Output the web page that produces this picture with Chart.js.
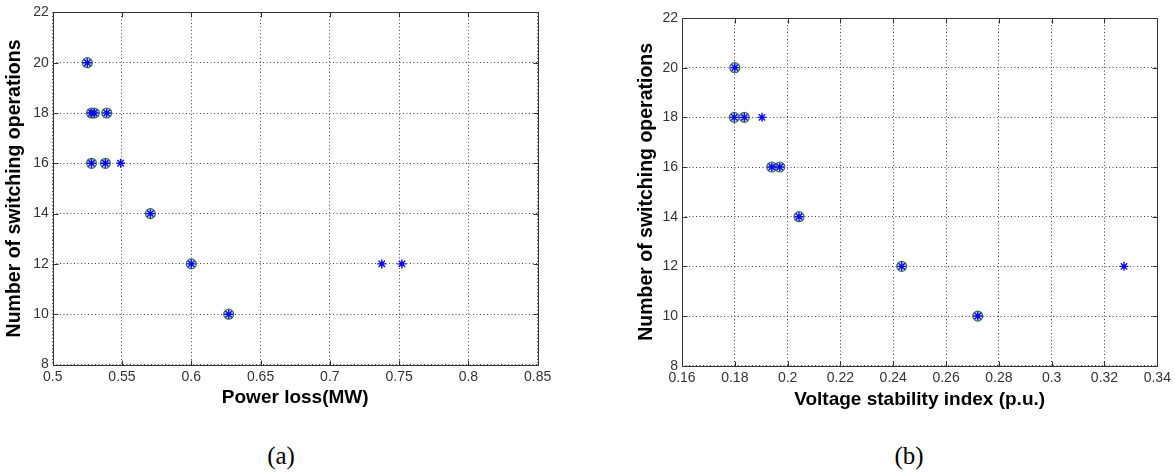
<!DOCTYPE html>
<html>
<head>
<meta charset="utf-8">
<script src="https://cdn.jsdelivr.net/npm/chart.js@4.4.1/dist/chart.umd.min.js"></script>
<style>
  html, body { margin: 0; padding: 0; background: #fff; }
  body { width: 1175px; height: 476px; position: relative; overflow: hidden; }
  .plot { position: absolute; top: 0; height: 430px; }
  #wrapA { left: 0; width: 600px; }
  #wrapB { left: 632px; width: 543px; }
  .caption {
    position: absolute; top: 443px; line-height: 1;
    font-family: "Liberation Serif", "Times New Roman", serif; font-size: 25px; color: #000;
    transform: translateX(-50%);
  }
</style>
</head>
<body>
<div class="plot" id="wrapA"><canvas id="chartA"></canvas></div>
<div class="plot" id="wrapB"><canvas id="chartB"></canvas></div>
<div class="caption" style="left:281px">(a)</div>
<div class="caption" style="left:909px">(b)</div>

<script>
// (a) power loss vs number of switching operations
const lossAll = [0.525, 0.528, 0.530, 0.539, 0.528, 0.538, 0.549, 0.5705, 0.600, 0.627, 0.7375, 0.752]
const lossAllSw = [20, 18, 18, 18, 16, 16, 16, 14, 12, 10, 12, 12]
// circled solutions
const lossSel = [0.525, 0.528, 0.530, 0.539, 0.528, 0.538, 0.5705, 0.600, 0.627]
const lossSelSw = [20, 18, 18, 18, 16, 16, 14, 12, 10]

// (b) voltage stability index vs number of switching operations
const vsiAll = [0.180, 0.1798, 0.1836, 0.1903, 0.194, 0.197, 0.2043, 0.2432, 0.272, 0.3274]
const vsiAllSw = [20, 18, 18, 18, 16, 16, 14, 12, 10, 12]
const vsiSel = [0.180, 0.1798, 0.1836, 0.194, 0.197, 0.2043, 0.2432, 0.272]
const vsiSelSw = [20, 18, 18, 16, 16, 14, 12, 10]

// ticks
const xTicksA = [0.5, 0.55, 0.6, 0.65, 0.7, 0.75, 0.8, 0.85]
const xTickLabelsA = ['0.5', '0.55', '0.6', '0.65', '0.7', '0.75', '0.8', '0.85']
const xTicksB = [0.16, 0.18, 0.2, 0.22, 0.24, 0.26, 0.28, 0.3, 0.32, 0.34]
const xTickLabelsB = ['0.16', '0.18', '0.2', '0.22', '0.24', '0.26', '0.28', '0.3', '0.32', '0.34']
const yTicks = [8, 10, 12, 14, 16, 18, 20, 22]
const yTickLabels = ['8', '10', '12', '14', '16', '18', '20', '22']

Chart.defaults.font.family = '"Liberation Sans", Arial, sans-serif'
Chart.defaults.color = '#333'

// matlab style box with inward ticks
const boxPlugin = {
  id: 'matlabBox',
  beforeDatasetsDraw(chart) {
    const { ctx, chartArea: a, scales } = chart
    const l = Math.round(a.left) + 0.5
    const r = Math.round(a.right) + 0.5
    const t = Math.round(a.top) + 0.5
    const b = Math.round(a.bottom) + 0.5
    ctx.save()
    ctx.strokeStyle = '#333'
    ctx.lineWidth = 1
    ctx.beginPath()
    ctx.rect(l, t, r - l, b - t)
    scales.x.ticks.forEach((tk) => {
      const px = Math.round(scales.x.getPixelForValue(tk.value)) + 0.5
      ctx.moveTo(px, b); ctx.lineTo(px, b - 5)
      ctx.moveTo(px, t); ctx.lineTo(px, t + 5)
    })
    scales.y.ticks.forEach((tk) => {
      const py = Math.round(scales.y.getPixelForValue(tk.value)) + 0.5
      ctx.moveTo(l, py); ctx.lineTo(l + 5, py)
      ctx.moveTo(r, py); ctx.lineTo(r - 5, py)
    })
    ctx.stroke()
    ctx.restore()
  },
}

function toPoints(xs, ys) {
  return xs.map((v, i) => ({ x: v, y: ys[i] }))
}

function createPlot(canvas, opts) {
  return new Chart(canvas, {
    type: 'scatter',
    data: {
      datasets: [
        {
          label: 'all',
          data: toPoints(opts.allX, opts.allY),
          pointStyle: 'star',
          pointRadius: 4.5,
          borderColor: '#0a0ae6',
          backgroundColor: '#0a0ae6',
          borderWidth: 1.4,
        },
        {
          label: 'selected',
          data: toPoints(opts.selX, opts.selY),
          pointStyle: 'circle',
          pointRadius: 5,
          borderColor: '#3d6e54',
          backgroundColor: 'rgba(170,195,225,0.5)',
          borderWidth: 1.2,
        },
      ],
    },
    options: {
      responsive: true,
      maintainAspectRatio: false,
      animation: false,
      devicePixelRatio: 1,
      layout: { padding: opts.padding },
      plugins: {
        legend: { display: false },
        tooltip: { enabled: false },
      },
      scales: {
        x: {
          type: 'linear',
          min: opts.xTicks[0],
          max: opts.xTicks[opts.xTicks.length - 1],
          afterBuildTicks: (s) => { s.ticks = opts.xTicks.map((v) => ({ value: v })) },
          afterFit: (s) => { s.height = 45 },
          ticks: {
            autoSkip: false,
            maxRotation: 0,
            padding: 4,
            font: { size: 14 },
            callback: (v, i) => opts.xLabels[i],
          },
          grid: { color: '#444', lineWidth: 1, drawTicks: false },
          border: { display: false, dash: [1, 2.5] },
          title: {
            display: true,
            text: opts.xTitle,
            color: '#000',
            font: { size: 19, weight: 'bold' },
            padding: { top: 0, bottom: 0 },
          },
        },
        y: {
          min: 8,
          max: 22,
          afterBuildTicks: (s) => { s.ticks = yTicks.map((v) => ({ value: v })) },
          afterFit: (s) => { s.width = opts.yWidth },
          ticks: {
            autoSkip: false,
            padding: 4,
            font: { size: 14 },
            callback: (v, i) => yTickLabels[i],
          },
          grid: { color: '#444', lineWidth: 1, drawTicks: false },
          border: { display: false, dash: [1, 2.5] },
          title: {
            display: true,
            text: 'Number of switching operations',
            color: '#000',
            font: { size: 19.5, weight: 'bold' },
            padding: { top: 3, bottom: 0 },
          },
        },
      },
    },
    plugins: [boxPlugin],
  })
}

createPlot(document.getElementById('chartA'), {
  allX: lossAll, allY: lossAllSw,
  selX: lossSel, selY: lossSelSw,
  xTicks: xTicksA, xLabels: xTickLabelsA,
  xTitle: 'Power loss(MW)',
  yWidth: 52.7,
  padding: { left: 0, top: 10, right: 62.3, bottom: 20.5 },
})

createPlot(document.getElementById('chartB'), {
  allX: vsiAll, allY: vsiAllSw,
  selX: vsiSel, selY: vsiSelSw,
  xTicks: xTicksB, xLabels: xTickLabelsB,
  xTitle: 'Voltage stability index (p.u.)',
  yWidth: 50,
  padding: { left: 0, top: 18, right: 17.7, bottom: 19.3 },
})
</script>
</body>
</html>
